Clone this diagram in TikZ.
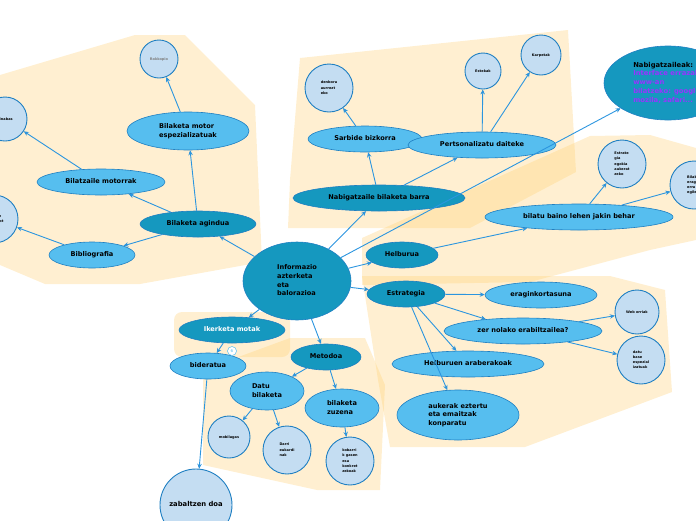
\documentclass[tikz,border=0pt]{standalone}
\usepackage{fontspec}
\setmainfont{DejaVu Sans}
\usetikzlibrary{shapes.geometric,arrows.meta}
\definecolor{mapdark}{HTML}{1598BF}
\definecolor{maplight}{HTML}{56BEEF}
\definecolor{mappale}{HTML}{C4DDF2}
\definecolor{mapedge}{HTML}{1F7FC2}
\definecolor{mapline}{HTML}{2B95DF}
\definecolor{mapzone}{HTML}{FFD27A}
\definecolor{mappurple}{HTML}{9933FF}
\tikzset{
  dark node/.style={ellipse,fill=mapdark,draw=mapedge,line width=0.6pt,inner sep=0pt,font=\bfseries\fontsize{6.6}{8.7}\selectfont},
  light node/.style={ellipse,fill=maplight,draw=mapedge,line width=0.6pt,inner sep=0pt,font=\bfseries\fontsize{6.6}{8.7}\selectfont},
  pale node/.style={circle,fill=mappale,draw=mapedge,line width=0.9pt,inner sep=0pt,font=\bfseries\fontsize{3.5}{5.2}\selectfont},
  map edge/.style={draw=mapline,line width=0.9pt,-{Stealth[length=5pt,width=4.5pt]}},
  zone/.style={fill=mapzone,fill opacity=0.35,draw=none},
}
\newcommand\mmtext[1]{\makebox[0pt]{\begin{tabular}{@{}l@{}}#1\end{tabular}}}

\begin{document}
\begin{tikzpicture}[x=1pt,y=-1pt]
	\useasboundingbox (0,0) rectangle (696,520);
	\clip (0,0) rectangle (696,520);

	% background zones
	\fill[zone] (0,75) -- (135,35) -- (185,35) -- (255,105) -- (262,262) -- (140,284) -- (45,284) -- (0,265) -- cycle;
	\fill[zone] (300,58) -- (568,30) -- (576,172) -- (470,228) -- (288,228) -- (290,180) -- cycle;
	\fill[zone] (362,238) -- (590,136) -- (650,135) -- (696,148) -- (696,240) -- (650,250) -- (530,282) -- (362,285) -- cycle;
	\fill[zone] (362,276) -- (610,276) -- (665,290) -- (672,392) -- (525,447) -- (390,447) -- (378,380) -- cycle;
	\fill[zone, rounded corners=8pt] (174,312) rectangle (290,357);
	\fill[zone] (203,370) -- (290,338) -- (365,338) -- (385,385) -- (380,490) -- (317,490) -- (203,465) -- cycle;

	% center
	\node[dark node, minimum width=108pt, minimum height=78pt] (info) at (297,281) {\mmtext{Informazio\\azterketa\\eta\\balorazioa}};

	% top group
	\node[dark node, minimum width=172pt, minimum height=26pt] (barra) at (379,198) {\mmtext{Nabigatzaile bilaketa barra}};
	\node[light node, minimum width=114pt, minimum height=26pt] (sarbide) at (365,139) {\mmtext{Sarbide bizkorra}};
	\node[light node, minimum width=148pt, minimum height=26pt] (pertson) at (482,145) {\mmtext{Pertsonalizatu daiteke}};
	\node[pale node, minimum size=48pt] (denbora) at (329,88) {\mmtext{denbora\\aurrezt\\eko}};
	\node[pale node, minimum size=36pt] (estekak) at (483,71) {\mmtext{Estekak}};
	\node[pale node, minimum size=40pt] (karpetak) at (541,55) {\mmtext{Karpetak}};
	\node[dark node, minimum width=128pt, minimum height=74pt, font=\bfseries\fontsize{6.8}{8.8}\selectfont] (nabig) at (668,83)
		{\mmtext{Nabigatzaileak:\\\color{mappurple}Interface errazak\\\color{mappurple}www-an\\\color{mappurple}bilatzeko: google,\\\color{mappurple}mozila, safari...}};

	% right group
	\node[light node, minimum width=188pt, minimum height=26pt] (bilatu) at (579,217) {\mmtext{bilatu baino lehen jakin behar}};
	\node[pale node, minimum size=48pt] (estrat) at (622,164) {\mmtext{Estrate\\gia\\egokia\\aukerat\\zeko}};
	\node[pale node, minimum size=48pt] (bilakc) at (694,185) {\mmtext{Bilaket\\eragi\\erra\\egile}};
	\node[dark node, minimum width=72pt, minimum height=26pt] (helburua) at (402,255) {\mmtext{Helburua}};
	\node[dark node, minimum width=78pt, minimum height=26pt] (estrategia) at (406,294) {\mmtext{Estrategia}};
	\node[light node, minimum width=112pt, minimum height=26pt] (eragin) at (541,295) {\mmtext{eraginkortasuna}};
	\node[light node, minimum width=158pt, minimum height=26pt] (zer) at (523,331) {\mmtext{zer nolako erabiltzailea?}};
	\node[pale node, minimum size=44pt] (web) at (637,312) {\mmtext{Web orriak}};
	\node[pale node, minimum size=48pt] (datu) at (641,360) {\mmtext{datu\\base\\espezial\\izatuak}};
	\node[light node, minimum width=152pt, minimum height=26pt] (helburuen) at (468,364) {\mmtext{Helburuen araberakoak}};
	\node[light node, minimum width=122pt, minimum height=50pt] (aukerak) at (458,415) {\mmtext{aukerak eztertu\\eta emaitzak\\konparatu}};

	% bottom group
	\node[dark node, minimum width=106pt, minimum height=26pt, text=white] (ikerketa) at (232,330) {\mmtext{Ikerketa motak}};
	\node[light node, minimum width=76pt, minimum height=26pt] (bideratua) at (208,366) {\mmtext{bideratua}};
	\node[pale node, minimum size=72pt, font=\bfseries\fontsize{6.8}{8}\selectfont] (zabaltzen) at (196,505) {\mmtext{zabaltzen doa}};
	\node[dark node, minimum width=70pt, minimum height=26pt] (metodoa) at (326,357) {\mmtext{Metodoa}};
	\node[light node, minimum width=74pt, minimum height=38pt] (datubil) at (267,391) {\mmtext{Datu\\bilaketa}};
	\node[light node, minimum width=74pt, minimum height=38pt] (zuzena) at (342,408) {\mmtext{bilaketa\\zuzena}};
	\node[pale node, minimum size=42pt] (mobil) at (229,437) {\mmtext{mobilagas}};
	\node[pale node, minimum size=48pt] (darri) at (287,450) {\mmtext{Darri\\eukardi\\nak}};
	\node[pale node, minimum size=48pt] (kobarri) at (350,461) {\mmtext{kobarri\\k gasen\\esa\\konkret\\zekoak}};

	% left group
	\node[pale node, minimum size=38pt, text=gray] (rokk) at (159,59) {\mmtext{Rokkopio}};
	\node[light node, minimum width=122pt, minimum height=38pt] (motorsp) at (188,131) {\mmtext{Bilaketa motor\\espezializatuak}};
	\node[light node, minimum width=128pt, minimum height=26pt] (motorrak) at (101,182) {\mmtext{Bilatzaile motorrak}};
	\node[dark node, minimum width=116pt, minimum height=26pt] (agindua) at (198,224) {\mmtext{Bilaketa agindua}};
	\node[light node, minimum width=86pt, minimum height=26pt] (biblio) at (92,255) {\mmtext{Bibliografia}};
	\node[pale node, minimum size=44pt] (leftc1) at (5,119) {\mmtext{Ilinabas}};
	\node[pale node, minimum size=48pt] (leftc2) at (-6,219) {\mmtext{Liburute\\katalogot}};

	\path[map edge]
		(info) edge (barra)
		(info) edge (nabig)
		(info) edge (helburua)
		(info) edge (estrategia)
		(info) edge (ikerketa)
		(info) edge (metodoa)
		(info) edge (agindua)
		(barra) edge (sarbide)
		(barra) edge (pertson)
		(sarbide) edge (denbora)
		(pertson) edge (estekak)
		(pertson) edge (karpetak)
		(helburua) edge (bilatu)
		(bilatu) edge (estrat)
		(bilatu) edge (bilakc)
		(estrategia) edge (eragin)
		(estrategia) edge (zer)
		(estrategia) edge (helburuen)
		(estrategia) edge (aukerak)
		(zer) edge (web)
		(zer) edge (datu)
		(ikerketa) edge (bideratua)
		(bideratua) edge (zabaltzen)
		(metodoa) edge (datubil)
		(metodoa) edge (zuzena)
		(datubil) edge (mobil)
		(datubil) edge (darri)
		(zuzena) edge (kobarri)
		(agindua) edge (motorrak)
		(agindua) edge (biblio)
		(agindua) edge (motorsp)
		(motorsp) edge (rokk)
		(motorrak) edge (leftc1)
		(biblio) edge (leftc2);

	\node[circle, fill=white, draw=maplight, line width=0.5pt, minimum size=9pt, inner sep=0pt, text=maplight, font=\fontsize{4}{4}\selectfont] (fold) at (232,351) {6};
\end{tikzpicture}
\end{document}
